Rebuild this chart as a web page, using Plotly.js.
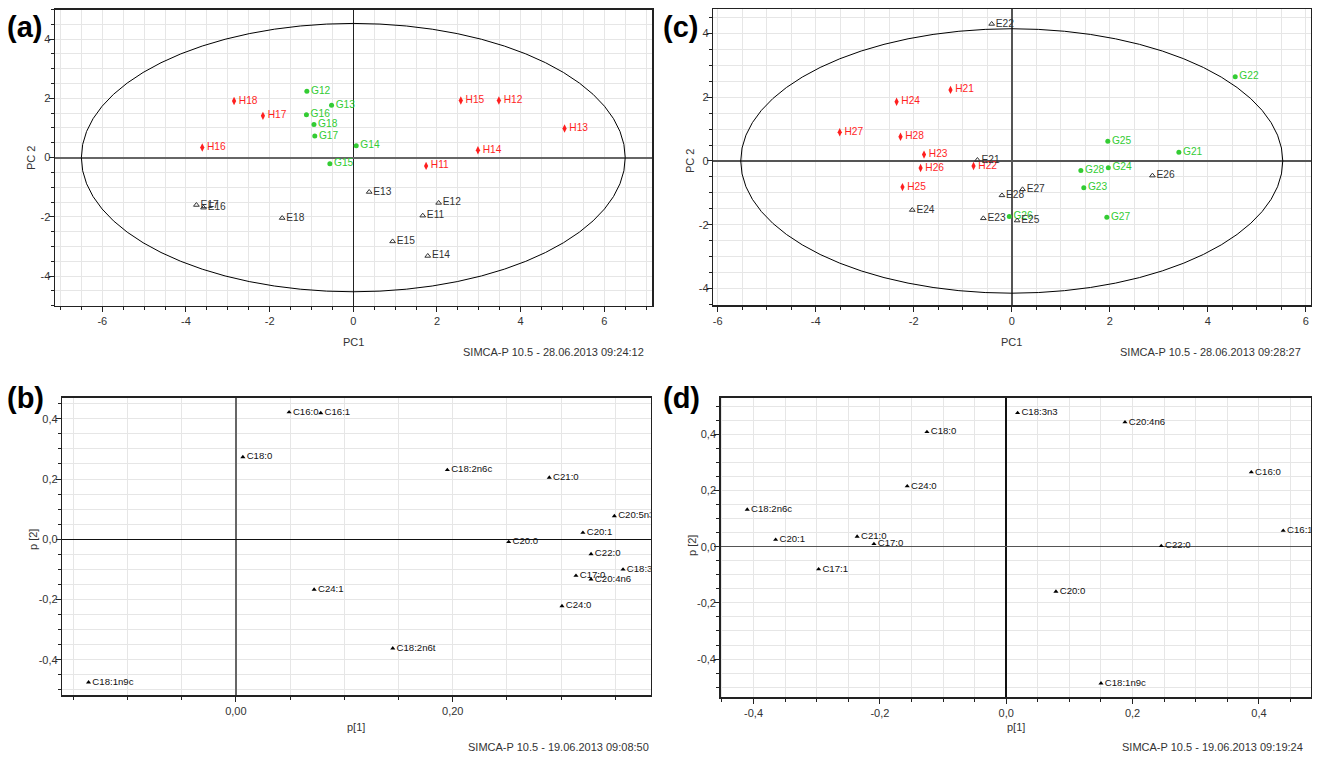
<!DOCTYPE html>
<html>
<head>
<meta charset="utf-8">
<script src="https://cdn.plot.ly/plotly-3.0.1.min.js"></script>
<style>html,body{margin:0;padding:0;background:#fff;}#chart{width:1319px;height:759px;}</style>
</head>
<body>
<div id="chart"></div>
<script>
// ---------- Panel (a): scores ----------
const aHLabels = ['H11','H12','H13','H14','H15','H16','H17','H18'];
const aHx = [1.74, 3.48, 5.05, 2.98, 2.57, -3.61, -2.16, -2.85];
const aHy = [-0.28, 1.93, 0.98, 0.25, 1.93, 0.34, 1.41, 1.91];
const aGLabels = ['G12','G13','G14','G15','G16','G17','G18'];
const aGx = [-1.11, -0.52, 0.07, -0.56, -1.12, -0.92, -0.94];
const aGy = [2.24, 1.77, 0.40, -0.21, 1.45, 0.73, 1.12];
const aELabels = ['E11','E12','E13','E14','E15','E16','E17','E18'];
const aEx = [1.66, 2.04, 0.38, 1.78, 0.94, -3.58, -3.75, -1.70];
const aEy = [-1.96, -1.53, -1.16, -3.32, -2.83, -1.69, -1.60, -2.04];
const aEllipse = [6.5, 4.53];

// ---------- Panel (c): scores ----------
const cHLabels = ['H21','H22','H23','H24','H25','H26','H27','H28'];
const cHx = [-1.25, -0.78, -1.79, -2.35, -2.23, -1.86, -3.51, -2.27];
const cHy = [2.23, -0.16, 0.20, 1.86, -0.82, -0.22, 0.90, 0.76];
const cGLabels = ['G21','G22','G23','G24','G25','G26','G27','G28'];
const cGx = [3.41, 4.56, 1.47, 1.97, 1.96, -0.05, 1.94, 1.41];
const cGy = [0.27, 2.64, -0.84, -0.21, 0.62, -1.74, -1.77, -0.30];
const cELabels = ['E21','E22','E23','E24','E25','E26','E27','E28'];
const cEx = [-0.70, -0.41, -0.58, -2.03, 0.11, 2.87, 0.22, -0.20];
const cEy = [0.03, 4.30, -1.80, -1.54, -1.87, -0.46, -0.89, -1.08];
const cEllipse = [5.53, 4.15];

// ---------- Panel (b): loadings ----------
const bLabels = ['C16:0','C16:1','C18:0','C24:1','C18:1n9c','C18:2n6c','C21:0','C20:5n3','C20:1','C20:0','C22:0','C18:3n3','C17:0','C20:4n6','C24:0','C18:2n6t'];
const bx = [0.0491, 0.0783, 0.0065, 0.0722, -0.1358, 0.195, 0.289, 0.349, 0.320, 0.2516, 0.3275, 0.357, 0.3136, 0.3275, 0.3007, 0.1447];
const by = [0.422, 0.419, 0.273, -0.167, -0.475, 0.230, 0.205, 0.077, 0.022, -0.009, -0.049, -0.100, -0.121, -0.133, -0.2216, -0.362];

// ---------- Panel (d): loadings ----------
const dLabels = ['C18:0','C24:0','C18:2n6c','C20:1','C21:0','C17:0','C17:1','C18:3n3','C20:4n6','C16:0','C16:1','C22:0','C20:0','C18:1n9c'];
const dx = [-0.1255, -0.1567, -0.410, -0.365, -0.236, -0.2094, -0.297, 0.018, 0.188, 0.388, 0.4385, 0.2454, 0.0787, 0.150];
const dy = [0.408, 0.215, 0.132, 0.025, 0.036, 0.0096, -0.080, 0.476, 0.443, 0.265, 0.057, 0.0025, -0.160, -0.486];

// ---------- Tick labels ----------
const pcTickVals = [-6, -4, -2, 0, 2, 4, 6];
const pcTickText = ['-6', '-4', '-2', '0', '2', '4', '6'];
const pcYTickVals = [-4, -2, 0, 2, 4];
const pcYTickText = ['-4', '-2', '0', '2', '4'];
const bXTickVals = [0, 0.2];
const bXTickText = ['0,00', '0,20'];
const pTickVals = [-0.4, -0.2, 0, 0.2, 0.4];
const pTickText = ['-0,4', '-0,2', '0,0', '0,2', '0,4'];

const FONT = 'Arial, "Liberation Sans", sans-serif';
const RED = '#ff1f1f', GREEN = '#33cc33', GREY = '#333333';

function scoreTraces(hx, hy, hl, gx, gy, gl, ex, ey, el, xa, ya) {
  return [
    {x: hx, y: hy, text: hl, xaxis: xa, yaxis: ya, type: 'scatter', mode: 'markers+text', textposition: 'middle right',
     marker: {symbol: 'diamond-tall', size: 6, color: RED}, textfont: {family: FONT, size: 10.2, color: RED}, hoverinfo: 'text'},
    {x: gx, y: gy, text: gl, xaxis: xa, yaxis: ya, type: 'scatter', mode: 'markers+text', textposition: 'middle right',
     marker: {symbol: 'circle', size: 5, color: GREEN}, textfont: {family: FONT, size: 10.2, color: GREEN}, hoverinfo: 'text'},
    {x: ex, y: ey, text: el, xaxis: xa, yaxis: ya, type: 'scatter', mode: 'markers+text', textposition: 'middle right',
     marker: {symbol: 'triangle-up-open', size: 5, color: GREY, line: {width: 1, color: GREY}}, textfont: {family: FONT, size: 10.2, color: GREY}, hoverinfo: 'text'}
  ];
}
function loadTrace(x, y, t, xa, ya) {
  return {x: x, y: y, text: t, xaxis: xa, yaxis: ya, type: 'scatter', mode: 'markers+text', textposition: 'middle right',
    marker: {symbol: 'triangle-up', size: 4.5, color: '#000'}, textfont: {family: FONT, size: 9.6, color: '#111'}, hoverinfo: 'text'};
}

const data = [].concat(
  scoreTraces(aHx, aHy, aHLabels, aGx, aGy, aGLabels, aEx, aEy, aELabels, 'x', 'y'),
  scoreTraces(cHx, cHy, cHLabels, cGx, cGy, cGLabels, cEx, cEy, cELabels, 'x2', 'y2'),
  [loadTrace(bx, by, bLabels, 'x3', 'y3'), loadTrace(dx, dy, dLabels, 'x4', 'y4')]
);

function ax(domain, range, tv, tt, minorStep, zc, zw, anchor, isY) {
  const o = {
    domain: domain, range: range, anchor: anchor, tickmode: 'array', tickvals: tv, ticktext: tt,
    ticks: 'outside', ticklen: 5, tickwidth: 1, tickcolor: '#222',
    showgrid: true, gridcolor: '#e6e6e6', gridwidth: 1,
    minor: {tickmode: 'linear', tick0: 0, dtick: minorStep, ticks: 'outside', ticklen: 3, tickcolor: '#222', showgrid: true, gridcolor: '#e6e6e6', gridwidth: 1},
    showline: true, linecolor: '#222', linewidth: 1.5, mirror: true,
    zeroline: true, zerolinecolor: zc, zerolinewidth: zw,
    tickfont: {family: FONT, size: 11, color: '#333'}, fixedrange: true
  };
  if (isY) o.ticklabelstandoff = -4;
  return o;
}

const W = 1319, H = 759;
const px = v => v / W, py = v => 1 - v / H;

const layout = {
  width: W, height: H, margin: {l: 0, r: 0, t: 0, b: 0}, paper_bgcolor: '#fff', plot_bgcolor: '#fff',
  showlegend: false, font: {family: FONT},
  xaxis:  ax([px(55), px(652)], [-7.13, 7.14], pcTickVals, pcTickText, 0.5, '#222', 1, 'y'),
  yaxis:  ax([py(305.7), py(9.5)], [-5, 5], pcYTickVals, pcYTickText, 0.5, '#666', 2, 'x', true),
  xaxis2: ax([px(713.3), px(1310.7)], [-6.09, 6.1], pcTickVals, pcTickText, 0.5, '#555', 2, 'y2'),
  yaxis2: ax([py(305.3), py(9.3)], [-4.53, 4.76], pcYTickVals, pcYTickText, 0.5, '#555', 1.5, 'x2', true),
  xaxis3: ax([px(62.3), px(650.7)], [-0.160, 0.3825], bXTickVals, bXTickText, 0.05, '#666', 1.5, 'y3'),
  yaxis3: ax([py(695.3), py(397.7)], [-0.518, 0.470], pTickVals, pTickText, 0.05, '#111', 1.5, 'x3', true),
  xaxis4: ax([px(720.7), px(1310.7)], [-0.452, 0.482], pTickVals, pTickText, 0.05, '#111', 1.5, 'y4'),
  yaxis4: ax([py(697.3), py(397.7)], [-0.536, 0.530], pTickVals, pTickText, 0.05, '#555', 1.5, 'x4', true),
  shapes: [
    {type: 'circle', xref: 'x', yref: 'y', x0: -aEllipse[0], x1: aEllipse[0], y0: -aEllipse[1], y1: aEllipse[1], line: {color: '#000', width: 1}},
    {type: 'circle', xref: 'x2', yref: 'y2', x0: -cEllipse[0], x1: cEllipse[0], y0: -cEllipse[1], y1: cEllipse[1], line: {color: '#000', width: 1}}
  ],
  annotations: []
};

function ann(text, x, y, opts) {
  return Object.assign({text: text, xref: 'paper', yref: 'paper', x: px(x), y: py(y), showarrow: false,
    xanchor: 'center', yanchor: 'middle', font: {family: FONT, size: 11, color: '#333'}}, opts || {});
}
layout.annotations.push(
  ann('<b>(a)</b>', 5, 27, {xanchor: 'left', font: {family: FONT, size: 29, color: '#000'}}),
  ann('<b>(c)</b>', 661, 27, {xanchor: 'left', font: {family: FONT, size: 29, color: '#000'}}),
  ann('<b>(b)</b>', 5, 398, {xanchor: 'left', font: {family: FONT, size: 29, color: '#000'}}),
  ann('<b>(d)</b>', 661, 398, {xanchor: 'left', font: {family: FONT, size: 29, color: '#000'}}),
  ann('PC1', 353, 342),
  ann('PC1', 1011, 342),
  ann('PC 2', 31, 158, {textangle: -90}),
  ann('PC 2', 690, 161, {textangle: -90}),
  ann('p[1]', 356, 727),
  ann('p[1]', 1016, 727),
  ann('p [2]', 33, 540, {textangle: -90}),
  ann('p [2]', 692, 546, {textangle: -90}),
  ann('SIMCA-P 10.5 - 28.06.2013 09:24:12', 646, 352, {xanchor: 'right'}),
  ann('SIMCA-P 10.5 - 28.06.2013 09:28:27', 1303, 352, {xanchor: 'right'}),
  ann('SIMCA-P 10.5 - 19.06.2013 09:08:50', 651, 747, {xanchor: 'right'}),
  ann('SIMCA-P 10.5 - 19.06.2013 09:19:24', 1305, 747, {xanchor: 'right'})
);

Plotly.newPlot('chart', data, layout, {displayModeBar: false, staticPlot: true});
</script>
</body>
</html>
